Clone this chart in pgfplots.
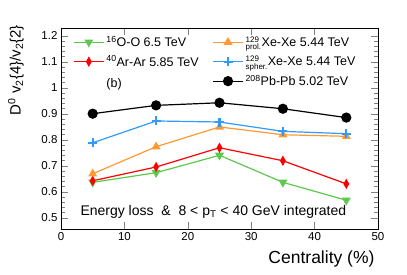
\documentclass[border=0pt]{standalone}
\usepackage{fontspec}
\setmainfont{Liberation Sans}
\usepackage{pgfplots}
\pgfplotsset{compat=1.18}
\definecolor{cgreen}{RGB}{94,200,78}
\definecolor{cred}{RGB}{255,0,0}
\definecolor{corange}{RGB}{255,153,51}
\definecolor{cblue}{RGB}{51,153,255}
\newcommand{\nuc}[2]{$\vphantom{X}^{\mbox{\fontsize{8}{9}\selectfont #1}}_{\mbox{\fontsize{8}{9}\selectfont #2}}$}
\begin{document}
\begin{tikzpicture}
\useasboundingbox (0,0) rectangle (407pt,275pt);
\begin{axis}[
 at={(61pt,46pt)}, anchor=south west,
 scale only axis, width=317pt, height=201pt,
 xmin=0, xmax=50, ymin=0.4565, ymax=1.2296,
 xtick={0,10,20,30,40,50},
 ytick={0.5,0.6,0.7,0.8,0.9,1,1.1,1.2},
 minor y tick num=4,
 tick align=inside,
 major tick length=7pt, minor tick length=3.5pt,
 tick label style={font=\fontsize{11.5}{13}\selectfont},
 /pgf/number format/assume math mode=true,
 legend columns=3, transpose legend,
 legend style={at={(rel axis cs:0.0379,0.97)}, anchor=north west, draw=none, fill=none,
   font=\fontsize{12.5}{14}\selectfont, row sep=3.5pt, column sep=0pt, inner sep=0pt},
 legend cell align=left,
 legend image code/.code={\draw[mark repeat=2,mark phase=2,#1] plot coordinates {(0pt,0pt) (15pt,0pt) (30pt,0pt)};},
]
\addplot[cgreen, line width=1.2pt, mark=triangle*, mark size=4pt, mark options={rotate=180}] coordinates {(5,0.636) (15,0.673) (25,0.740) (35,0.636) (45,0.567)};
\addlegendentry{\makebox[104pt][l]{\textsuperscript{16}O-O 6.5 TeV}}
\addplot[cred, line width=1.2pt, mark=diamond*, mark size=4pt, mark options={xscale=0.75}] coordinates {(5,0.642) (15,0.695) (25,0.769) (35,0.719) (45,0.630)};
\addlegendentry{\textsuperscript{40}Ar-Ar 5.85 TeV}
\addlegendimage{empty legend}
\addlegendentry{\raisebox{-5pt}{(b)}}
\addplot[corange, line width=1.2pt, mark=triangle*, mark size=4pt] coordinates {(5,0.669) (15,0.773) (25,0.849) (35,0.819) (45,0.813)};
\addlegendentry{\nuc{129}{prol.}Xe-Xe 5.44 TeV}
\addplot[cblue, line width=1.2pt, mark=+, mark size=4.5pt, mark options={line width=2.2pt}] coordinates {(5,0.788) (15,0.872) (25,0.868) (35,0.832) (45,0.823)};
\addlegendentry{\nuc{129}{spher.}Xe-Xe 5.44 TeV}
\addplot[black, line width=1.2pt, mark=*, mark size=4.5pt] coordinates {(5,0.900) (15,0.932) (25,0.942) (35,0.919) (45,0.885)};
\addlegendentry{\textsuperscript{208}Pb-Pb 5.02 TeV}
\node[anchor=west, font=\fontsize{14}{16}\selectfont] at (axis cs:2.52,0.522) {Energy loss \ \& \ 8 < p\textsubscript{T} < 40 GeV integrated};
\end{axis}
\node[anchor=east, font=\fontsize{17.5}{20}\selectfont] at (378pt,16pt) {Centrality (\%)};
\node[rotate=90, anchor=east, font=\fontsize{15}{18}\selectfont, inner sep=0pt] at (16pt,250pt) {D\textsuperscript{0} v\textsubscript{2}\{4\}/v\textsubscript{2}\{2\}};
\end{tikzpicture}
\end{document}
